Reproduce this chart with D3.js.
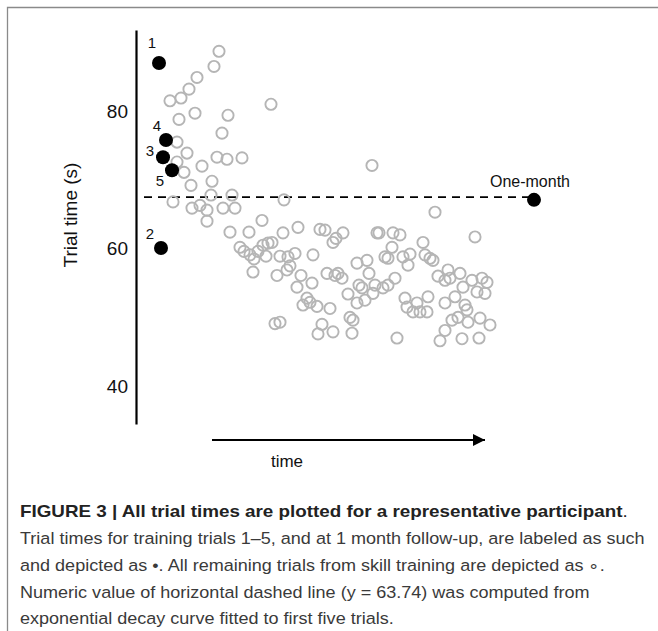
<!DOCTYPE html>
<html><head><meta charset="utf-8">
<script src="https://cdn.jsdelivr.net/npm/d3@7"></script>
<style>html,body{margin:0;padding:0;background:#fff;}svg{display:block;}</style>
</head><body>
<svg id="c" width="658" height="631"></svg>
<script>
// ---- data ----
const openTime = [41.5,39,30.5,26.5,22.5,17,29.5,21.5,46,43,67.5,20.5,25.5,20.5,33,40.5,45.5,53,24,38,27.5,18.5,28,32,35.5,43.5,49.5,37.5,48,74,35.5,
47,56.5,63,73.5,81,92,94.5,52,54,57,59,61,63.5,66,68,65,58.5,72,76,79.5,77,70.5,75.5,82.5,88.5,95.5,99.5,80.5,88,85.5,83.5,87,90.5,97,69.5,72,93,91,98.5,
118,149.5,169.5,98.5,100,103.5,120.5,121.5,128.5,132,128,143.5,124.5,126,133.5,137,136,144.5,147,148.5,110.5,115.5,116.5,101,103,151,156,154.5,162,157,168,173,175.5,170.5,174.5,163.5,129.5,111.5,113,119.5,123.5,126,106,110.5,114.5,118.5,134.5,135.5,140.5,138.5,142,145.5,146,154.5,159.5,164.5,165.5,161,158,107,108.5,166,172,177,154.5,108,130.5,152,163,171.5];
const openSec = [88.7,86.5,84.9,83.2,81.9,81.5,79.7,78.8,79.4,76.8,81.0,75.5,73.9,72.6,72.0,73.3,73.0,73.2,71.1,69.8,69.2,66.8,65.9,66.3,65.6,65.9,65.9,67.8,67.8,67.1,64.0,
62.4,62.4,64.1,62.3,63.1,62.8,62.7,60.2,59.6,59.1,58.5,59.6,60.5,60.8,60.9,58.9,56.6,58.9,58.8,59.3,57.5,56.1,56.9,56.1,59.1,56.4,56.1,54.4,55.0,52.8,51.8,52.2,51.6,51.3,49.1,49.3,49.0,47.6,47.9,
72.1,65.3,61.7,60.9,61.5,62.3,62.3,62.3,62.3,62.0,60.2,60.9,58.8,58.6,58.8,59.2,57.6,59.1,58.6,58.3,57.9,58.3,56.4,56.4,55.7,56.0,56.9,55.4,56.4,55.7,55.4,55.7,55.1,53.7,53.5,54.4,55.7,54.7,54.3,54.7,54.3,54.7,53.4,52.1,52.5,53.5,52.8,51.5,52.1,50.8,50.8,50.8,53.0,52.1,53.0,51.8,51.1,50.0,49.6,50.0,49.6,49.3,49.9,48.9,48.1,47.7,47.0,46.6,46.9,47.0];
const firstLabels = ["1","2","3","4","5"];
const firstTime = [11.5,12.5,13.5,15,18];
const firstSec = [87.0,60.1,73.3,75.8,71.4];
const followLabel = "One-month";
const followTime = 199;
const followSec = 67.1;
const dashedSec = 67.5;
const yTicks = [40,60,80];
const yTitle = "Trial time (s)";
const xTitle = "time";
const captionBold = "FIGURE 3 | All trial times are plotted for a representative participant";
const captionLines = [
 "Trial times for training trials 1\u20135, and at 1 month follow-up, are labeled as such",
 "and depicted as \u2022. All remaining trials from skill training are depicted as \u2218.",
 "Numeric value of horizontal dashed line (y = 63.74) was computed from",
 "exponential decay curve fitted to first five trials."
];

// ---- drawing ----
const svg = d3.select("#c");
const F = "'Liberation Sans', Arial, Helvetica, sans-serif";
const x = d3.scaleLinear().domain([0,200]).range([136,536]);
const y = d3.scaleLinear().domain([34.5,91.8]).range([424,30]);

// frame
svg.append("path").attr("d","M7.5,640 V7.5 H670").attr("fill","none").attr("stroke","#8a8a8a").attr("stroke-width",1.3);

// y axis
const yAxis = d3.axisLeft(y).tickValues(yTicks).tickSize(0).tickPadding(8);
const ga = svg.append("g").attr("transform","translate(136,0)").call(yAxis);
ga.select(".domain").attr("stroke","#000").attr("stroke-width",2.2);
ga.selectAll("text").attr("font-family",F).attr("font-size",19).attr("fill","#111");

svg.append("text").attr("transform","translate(77,215) rotate(-90)")
 .attr("text-anchor","middle").attr("font-family",F).attr("font-size",19).attr("fill","#111").text(yTitle);

// dashed line
svg.append("line").attr("x1",x(4)).attr("x2",x(followTime)).attr("y1",y(dashedSec)).attr("y2",y(dashedSec))
 .attr("stroke","#000").attr("stroke-width",1.8).attr("stroke-dasharray","8,6");

// open circles
const openData = openTime.map((t,i)=>({t,s:openSec[i]}));
svg.append("g").selectAll("circle").data(openData).join("circle")
 .attr("cx",d=>x(d.t)).attr("cy",d=>y(d.s)).attr("r",5.6)
 .attr("fill","none").attr("stroke","#b5b5b5").attr("stroke-width",1.9);

// first trials
const fData = firstTime.map((t,i)=>({t,s:firstSec[i],l:firstLabels[i]}));
const offs = {"1":[-7,-15],"2":[-11,-9],"3":[-13,-1],"4":[-9,-9],"5":[-12,16]};
svg.append("g").selectAll("circle").data(fData).join("circle")
 .attr("cx",d=>x(d.t)).attr("cy",d=>y(d.s)).attr("r",7).attr("fill","#000");
svg.append("g").selectAll("text").data(fData).join("text")
 .attr("x",d=>x(d.t)+offs[d.l][0]).attr("y",d=>y(d.s)+offs[d.l][1])
 .attr("text-anchor","middle").attr("font-family",F).attr("font-size",15).attr("fill","#111").text(d=>d.l);

// follow-up
svg.append("circle").attr("cx",x(followTime)).attr("cy",y(followSec)).attr("r",7).attr("fill","#000");
svg.append("text").attr("x",x(followTime)-4).attr("y",y(followSec)-13).attr("text-anchor","middle")
 .attr("font-family",F).attr("font-size",16).attr("fill","#111").text(followLabel);

// time arrow
svg.append("defs").append("marker").attr("id","ah").attr("viewBox","0 0 10 10").attr("refX",10).attr("refY",5)
 .attr("markerWidth",12).attr("markerHeight",12).attr("markerUnits","userSpaceOnUse").attr("orient","auto")
 .append("path").attr("d","M0,0 L10,5 L0,10 Z").attr("fill","#000");
svg.append("line").attr("x1",212).attr("x2",485).attr("y1",440).attr("y2",440)
 .attr("stroke","#000").attr("stroke-width",2).attr("marker-end","url(#ah)");
svg.append("text").attr("x",287).attr("y",467).attr("text-anchor","middle").attr("font-family",F)
 .attr("font-size",17).attr("fill","#111").text(xTitle);

// caption (uniform horizontal condensing so proportions stay natural)
const cg = svg.append("g");
const cb = cg.append("text").attr("font-family",F).attr("font-size",17).attr("fill","#222");
cb.append("tspan").attr("font-weight","bold").text(captionBold);
cb.append("tspan").text(".");
const kb = 608 / cb.node().getComputedTextLength();
cb.attr("transform",`translate(20,517) scale(${kb},1)`);
const lines = captionLines.map((l,i)=> cg.append("text").attr("font-family",F).attr("font-size",17).attr("fill","#3a3a3a").text(l));
const k = 625 / lines[0].node().getComputedTextLength();
lines.forEach((t,i)=> t.attr("transform",`translate(20,${544+i*26.8}) scale(${k},1)`));
</script>
</body></html>
